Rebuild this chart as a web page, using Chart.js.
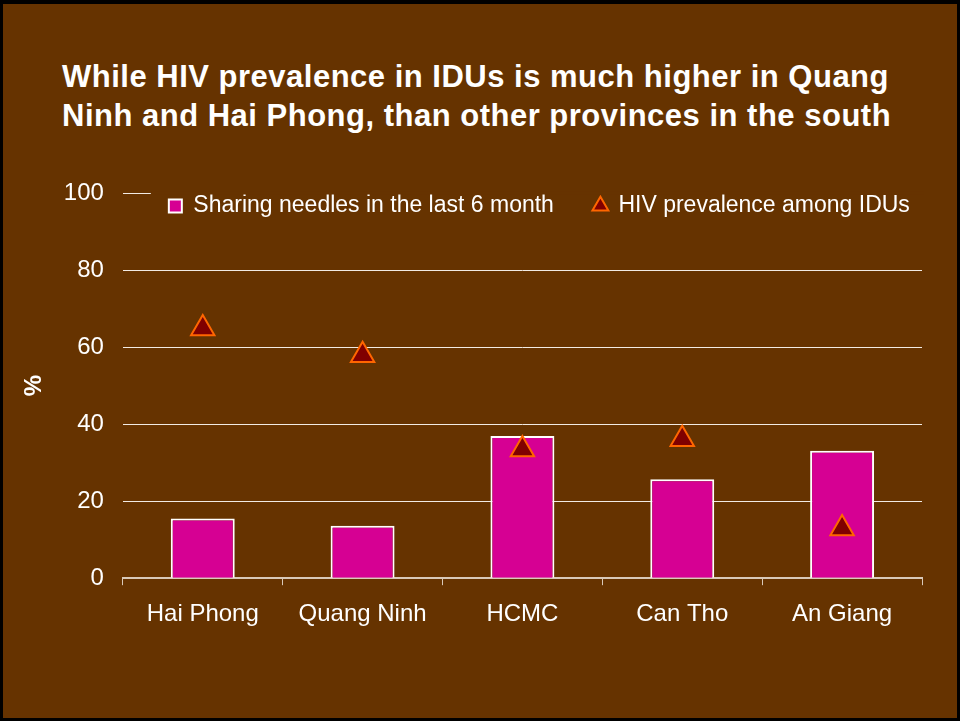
<!DOCTYPE html>
<html>
<head>
<meta charset="utf-8">
<script src="https://cdn.jsdelivr.net/npm/chart.js@4.4.1/dist/chart.umd.min.js"></script>
<style>
  html, body { margin: 0; padding: 0; background: #000; }
  #frame { position: absolute; left: 3px; top: 4px; right: 3px; bottom: 3px; background: #663300; }
  #title {
    position: absolute; left: 62px; top: 57px;
    font: bold 31px "Liberation Sans", Arial, sans-serif;
    letter-spacing: 0.5px;
    line-height: 39px; color: #fff; white-space: nowrap;
  }
  #chart { position: absolute; left: 0; top: 0; }
</style>
</head>
<body>
<div id="frame"></div>
<div id="title">While HIV prevalence in IDUs is much higher in Quang<br>Ninh and Hai Phong, than other provinces in the south</div>
<canvas id="chart" width="960" height="721"></canvas>
<script>
const provinces = ['Hai Phong', 'Quang Ninh', 'HCMC', 'Can Tho', 'An Giang'];
const sharingNeedles = [15.5, 13.6, 36.9, 25.7, 33.1];
const hivPrevalence = [64.8, 57.9, 33.4, 36.1, 12.9];
const yTicks = [0, 20, 40, 60, 80, 100];

const BG = '#663300';
const AXIS = '#d9c9b9';
const PLOT_TOP = 193;

// the legend sits inside the plot, on the 100 line, like the original
const legendShift = {
  id: 'legendShift',
  afterLayout(chart) {
    const lg = chart.legend;
    if (!lg) return;
    const h = lg.bottom - lg.top;
    lg.top = chart.chartArea.top - 38.5;
    lg.bottom = lg.top + h;
    const w = lg.right - lg.left;
    lg.left = chart.chartArea.left + 6;
    lg.right = lg.left + w;
  },
  beforeDatasetsDraw(chart) {
    // hide the 100 gridline behind the legend
    const lg = chart.legend;
    const hb = lg.legendHitBoxes && lg.legendHitBoxes[0];
    if (!hb) return;
    const ctx = chart.ctx;
    const x0 = hb.left - 18;
    ctx.save();
    ctx.fillStyle = BG;
    ctx.fillRect(x0, chart.chartArea.top - 1.5, chart.chartArea.right - x0 + 2, 3);
    ctx.restore();
  }
};

Chart.defaults.font.family = '"Liberation Sans", Arial, sans-serif';

const chart = new Chart(document.getElementById('chart'), {
  type: 'bar',
  data: {
    labels: provinces,
    datasets: [{
      label: 'Sharing needles in the last 6 month',
      data: sharingNeedles,
      backgroundColor: '#d60093',
      borderColor: '#ffffff',
      borderWidth: 2,
      pointStyle: 'rect',
      barPercentage: 0.4,
      categoryPercentage: 1,
      order: 1
    }, {
      type: 'line',
      label: 'HIV prevalence among IDUs',
      data: hivPrevalence,
      showLine: false,
      backgroundColor: '#800000',
      borderColor: '#ff6600',
      borderWidth: 2,
      pointStyle: 'triangle',
      pointRadius: 13.5,
      pointHoverRadius: 13.5,
      pointBackgroundColor: '#800000',
      pointBorderColor: '#ff6600',
      pointBorderWidth: 2,
      order: 0
    }]
  },
  options: {
    responsive: false,
    animation: false,
    layout: { padding: { top: 120, right: 38, bottom: 77, left: 0 } },
    plugins: {
      tooltip: { enabled: false },
      legend: {
        position: 'top',
        align: 'start',
        labels: {
          usePointStyle: true,
          boxWidth: 13,
          boxHeight: 13,
          padding: 40,
          color: '#fff',
          font: { size: 23 },
          sort: (a, b) => a.datasetIndex - b.datasetIndex
        }
      }
    },
    scales: {
      x: {
        grid: { display: true, drawOnChartArea: false, offset: true, color: AXIS, tickLength: 7 },
        border: { color: AXIS, width: 2 },
        ticks: { color: '#fff', font: { size: 24 }, padding: 15 }
      },
      y: {
        min: 0,
        max: 100,
        afterBuildTicks: axis => { axis.ticks = yTicks.map(v => ({ value: v })); },
        ticks: { color: '#fff', font: { size: 24 }, padding: 19 },
        grid: {
          drawTicks: false,
          color: c => c.tick && c.tick.value === 0 ? 'rgba(0,0,0,0)' : '#f2ebe4'
        },
        border: { display: false },
        title: {
          display: true,
          text: '%',
          color: '#fff',
          font: { size: 24, weight: 'bold' },
          padding: { top: 20, bottom: -4 }
        }
      }
    }
  },
  plugins: [legendShift]
});

// the legend takes room above the plot; give that room back so the plot starts at PLOT_TOP
chart.options.layout.padding.top += PLOT_TOP - chart.chartArea.top;
chart.update();
</script>
</body>
</html>
